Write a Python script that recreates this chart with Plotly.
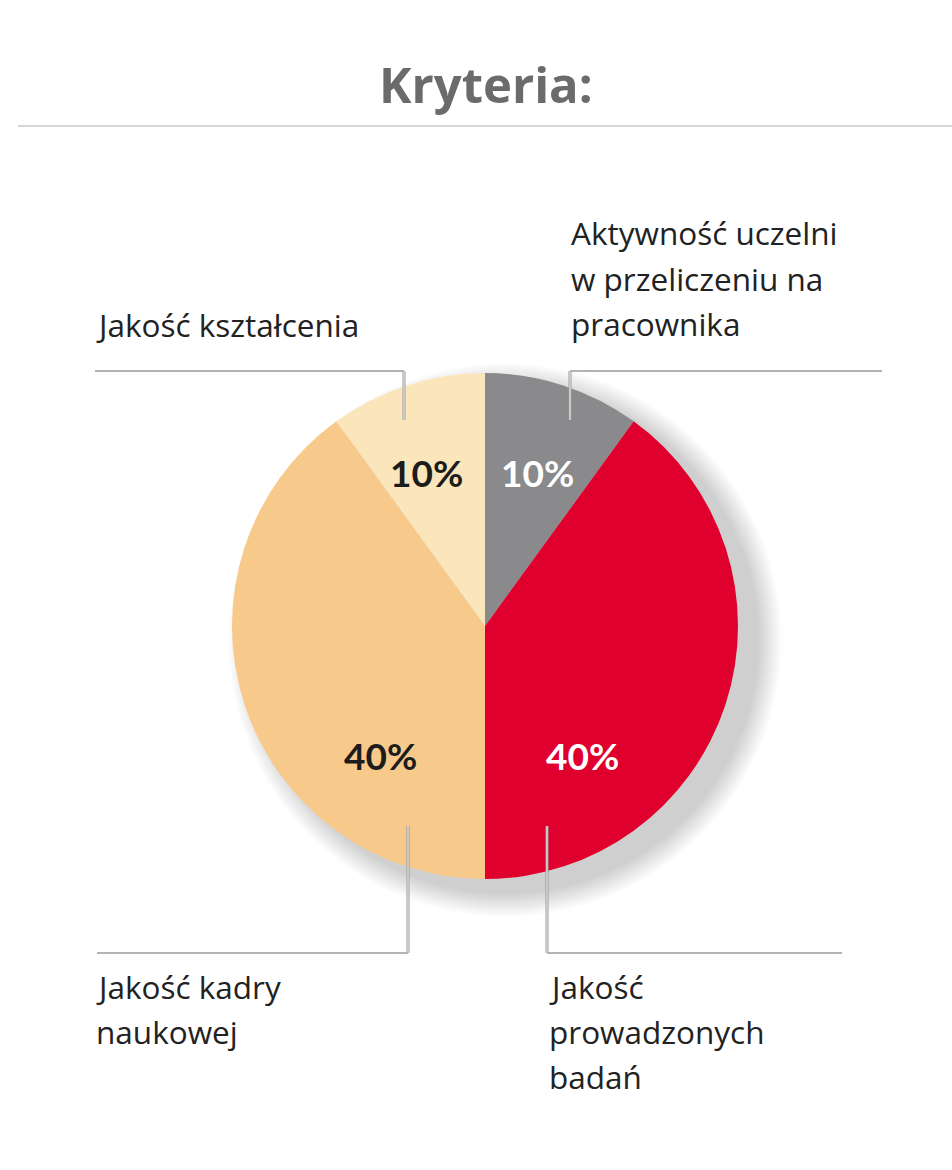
import plotly.graph_objects as go

W, H = 952, 1170

categories = ["Aktywność uczelni w przeliczeniu na pracownika", "Jakość prowadzonych badań",
              "Jakość kadry naukowej", "Jakość kształcenia"]
values = [10, 40, 40, 10]
colors = ["#8a8a8c", "#e0002d", "#f7c98b", "#fbe5bb"]
pct_labels = [f"{v}%" for v in values]
pct_colors = ["#ffffff", "#ffffff", "#1c1c1c", "#1c1c1c"]
pct_pos = [(537, 472), (582, 755), (380, 755), (426, 472)]

label_lines = [
    ["Aktywność uczelni", "w przeliczeniu na", "pracownika"],
    ["Jakość", "prowadzonych", "badań"],
    ["Jakość kadry", "naukowej"],
    ["Jakość kształcenia"],
]
label_pos = [(569, 233), (547, 986), (94, 986), (94, 324)]
LINE_STEP = 45

cx, cy, R = 485, 626, 253

def px(x):
    return x / W

def py(y):
    return 1 - y / H

fig = go.Figure(go.Pie(
    labels=categories, values=values, sort=False, direction="clockwise", rotation=0,
    marker=dict(colors=colors, line=dict(width=0)),
    textinfo="none", hoverinfo="label+percent", showlegend=False,
    domain=dict(x=[px(cx - R), px(cx + R)], y=[py(cy + R), py(cy - R)]),
))

shapes = []
# soft shadow
for k in range(1, 25):
    r = R + k
    ox, oy = cx + 20, cy + 14
    shapes.append(dict(type="circle", xref="paper", yref="paper", layer="below",
                       x0=px(ox - r), x1=px(ox + r), y0=py(oy + r), y1=py(oy - r),
                       fillcolor="rgba(0,0,0,0.007)", line=dict(width=0)))

def line(x0, y0, x1, y1, color="#9a9a9a", width=1.5, layer="above"):
    shapes.append(dict(type="line", xref="paper", yref="paper", layer=layer,
                       x0=px(x0), y0=py(y0), x1=px(x1), y1=py(y1),
                       line=dict(color=color, width=width)))

# separator under title
line(18, 126, 952, 126, color="#c8c8c8", width=1.5)

# leader lines: (horizontal x-start, x-end, y, vertical x, vertical y-end)
leaders = [
    (570, 882, 371, 570, 420),
    (547, 842, 953, 547, 826),
    (97, 408, 953, 408, 826),
    (95, 404, 371, 404, 420),
]
for hx0, hx1, hy, vx, vy in leaders:
    line(hx0, hy, hx1, hy)
    line(vx, hy, vx, vy, color="#9a9a9a", width=3)
    line(vx, hy, vx, vy, color="#f4f4f4", width=1)

annotations = [dict(text="<b>Kryteria:</b>", x=px(486), y=py(84), xref="paper", yref="paper",
                    showarrow=False, xanchor="center", yanchor="middle",
                    font=dict(family="Open Sans", size=49, color="#6b6b6b"))]

for txt, col, (x, y) in zip(pct_labels, pct_colors, pct_pos):
    annotations.append(dict(text=f"<b>{txt}</b>", x=px(x), y=py(y), xref="paper", yref="paper",
                            showarrow=False, xanchor="center", yanchor="middle",
                            font=dict(family="Lato", size=37, color=col)))

for lines, (x, y) in zip(label_lines, label_pos):
    for i, t in enumerate(lines):
        annotations.append(dict(text=t, x=px(x), y=py(y + i * LINE_STEP), xref="paper", yref="paper",
                                showarrow=False, xanchor="left", yanchor="middle",
                                font=dict(family="Open Sans", size=31.5, color="#222222")))

fig.update_layout(width=W, height=H, margin=dict(l=0, r=0, t=0, b=0),
                  paper_bgcolor="white", plot_bgcolor="white",
                  shapes=shapes, annotations=annotations)

fig.write_html("out.html")
